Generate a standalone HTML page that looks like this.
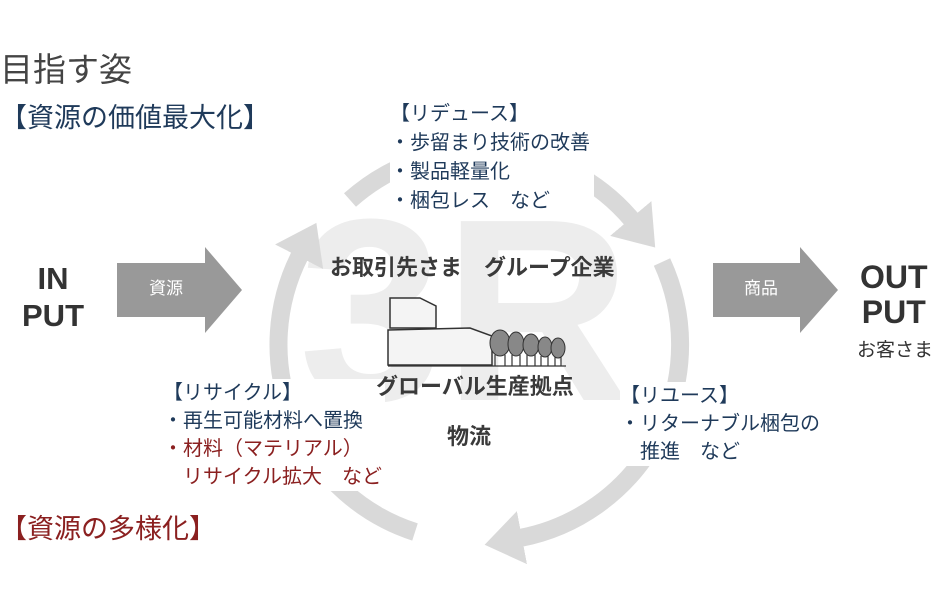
<!DOCTYPE html>
<html><head><meta charset="utf-8"><style>
body{margin:0;width:940px;height:600px;background:#fff;overflow:hidden;position:relative;font-family:"Liberation Sans","Noto Sans CJK JP",sans-serif}
.t{position:absolute;white-space:nowrap;line-height:1}
.nv{color:#1f3a5a}
.rd{color:#8b2020}
.bk{color:#3a3a3a;font-weight:bold}
.bg{background:#fff}
</style></head><body>
<svg width="940" height="600" style="position:absolute;left:0;top:0">
<defs>
<marker id="ah" markerUnits="userSpaceOnUse" markerWidth="40" markerHeight="54" refX="2" refY="27" orient="auto">
<polygon points="0,0 38,27 0,54" fill="#d9d9d9"/>
</marker>
</defs>
<text x="465" y="400" font-size="260" font-family="Liberation Sans" font-weight="bold" fill="#ededed" text-anchor="middle">3R</text>
<g fill="none" stroke="#d9d9d9" stroke-width="18">
<path d="M350,200 A197,197 0 0 1 632,220" marker-end="url(#ah)"/>
<path d="M662,262 A197,197 0 0 1 520,538" marker-end="url(#ah)"/>
<path d="M415,532 A197,197 0 0 1 300,255" marker-end="url(#ah)"/>
</g>
<polygon points="117,263 205,263 205,247 242,290 205,333 205,317 117,317" fill="#999"/>
<polygon points="713,263 800,263 800,247 838,290 800,333 800,317 713,317" fill="#999"/>
<g stroke="#333" stroke-width="1.5" fill="#f4f4f4">
<polygon points="390,298 420,298 436,306 436,328 390,328"/>
<polygon points="388,330 470,328 492,336 492,365 388,365"/>
</g>
<g fill="#888" stroke="#333" stroke-width="1">
<ellipse cx="500" cy="343" rx="10" ry="13"/><ellipse cx="516" cy="344" rx="8" ry="12"/><ellipse cx="531" cy="345" rx="8" ry="11"/><ellipse cx="545" cy="347" rx="7" ry="10"/><ellipse cx="558" cy="348" rx="7" ry="10"/>
</g>
<g stroke="#333" stroke-width="1.2"><path d="M495,355v11M505,355v11M512,355v11M520,355v11M527,355v11M535,355v11M541,356v10M548,356v10M555,357v9M561,357v9"/><path d="M388,366H566"/></g>
</svg>
<div class="t" style="left:0;top:53px;font-size:33px;color:#444">目指す姿</div>
<div class="t nv" style="left:0;top:105px;font-size:27px">【資源の価値最大化】</div>
<div class="t rd" style="left:0;top:516px;font-size:27px">【資源の多様化】</div>
<div class="t" style="left:22px;top:260px;font-size:31px;text-align:center;line-height:37px;color:#333;font-weight:bold">IN<br>PUT</div>
<div class="t" style="left:149px;top:280px;font-size:17px;color:#fff">資源</div>
<div class="t" style="left:744px;top:280px;font-size:17px;color:#fff">商品</div>
<div class="t" style="left:860px;top:260px;font-size:32px;text-align:center;line-height:35px;color:#333;font-weight:bold">OUT<br>PUT</div>
<div class="t" style="left:857px;top:341px;font-size:19px;color:#333">お客さま</div>
<div class="t nv bg" style="left:390px;top:100px;font-size:20px;line-height:29px;padding-right:4px">【リデュース】<br>・歩留まり技術の改善<br>・製品軽量化<br>・梱包レス　など</div>
<div class="t bg" style="left:163px;top:379px;font-size:20px;line-height:28px;padding-right:3px"><span class="nv">【リサイクル】<br>・再生可能材料へ置換</span><br><span class="rd">・材料（マテリアル）<br>　リサイクル拡大　など</span></div>
<div class="t nv bg" style="left:620px;top:382px;font-size:20px;line-height:28px">【リユース】<br>・リターナブル梱包の<br>　推進　など</div>
<div class="t bk" style="left:330px;top:257px;font-size:22px">お取引先さま　グループ企業</div>
<div class="t bk" style="left:376px;top:376px;font-size:22px">グローバル生産拠点</div>
<div class="t bk" style="left:447px;top:426px;font-size:22px">物流</div>
</body></html>
